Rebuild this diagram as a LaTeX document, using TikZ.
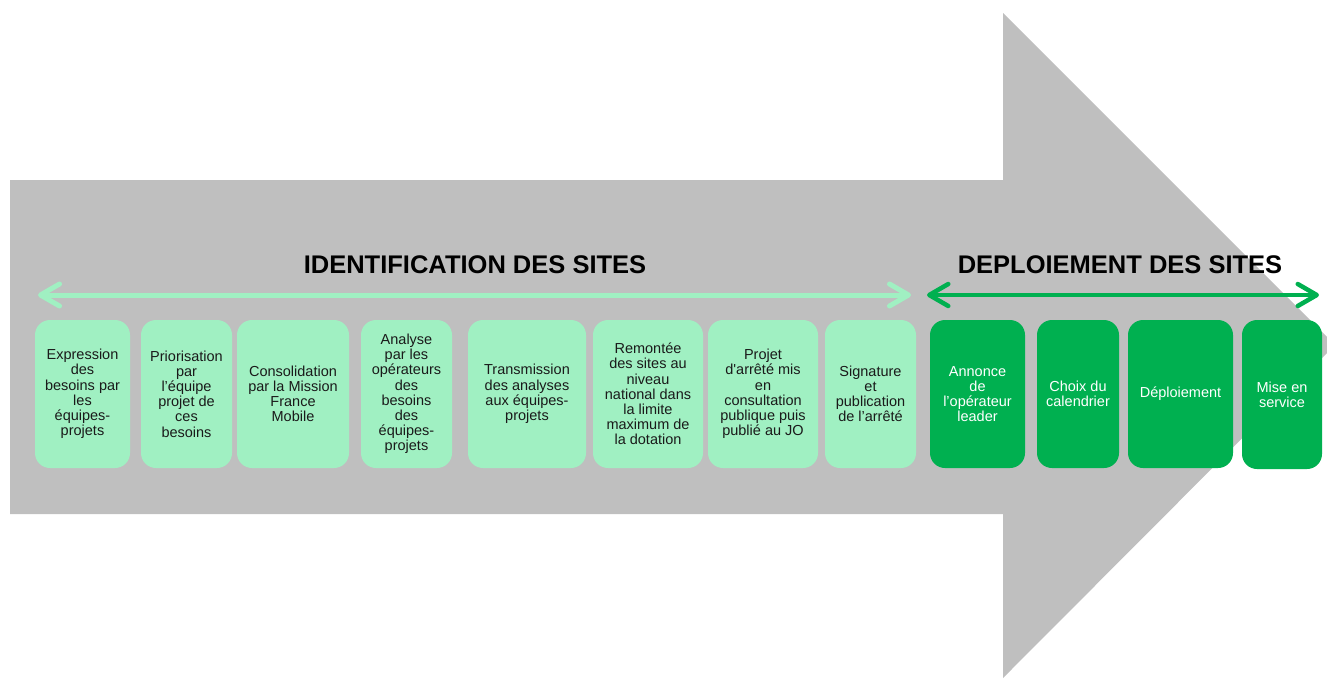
\documentclass[tikz,border=0pt]{standalone}
\usepackage{fontspec}
\setmainfont{Liberation Sans}
\usetikzlibrary{arrows.meta}
\definecolor{arrowgray}{HTML}{BFBFBF}
\definecolor{mint}{HTML}{A0F0C2}
\definecolor{leaf}{HTML}{00B050}
\definecolor{boxtext}{HTML}{1A1A1A}
\begin{document}
\begin{tikzpicture}[x=1pt,y=-1pt,
  stepbox/.style={rounded corners=15pt, inner sep=0pt, align=center,
    minimum height=148pt, font=\fontsize{14.5}{15.2}\selectfont},
  idbox/.style={stepbox, fill=mint, text=boxtext},
  depbox/.style={stepbox, fill=leaf, text=white},
  phasetitle/.style={anchor=base, font=\fontsize{25.5}{28}\selectfont\bfseries, text=black},
  spanline/.style={line width=5pt, line cap=round,
    {Straight Barb[length=19pt, width=22pt, line cap=round, line join=round]}-{Straight Barb[length=19pt, width=22pt, line cap=round, line join=round]}},
]
\useasboundingbox (0,0) rectangle (1327,678);
% big arrow
\fill[arrowgray] (10,180) -- (1003,180) -- (1003,13) -- (1335,345) -- (1003,678) -- (1003,514) -- (10,514) -- cycle;

% titles
\node[phasetitle] (t1) at (475,273) {IDENTIFICATION DES SITES};
\node[phasetitle] (t2) at (1120,273) {DEPLOIEMENT DES SITES};

% span arrows
\coordinate (idL) at (38,295);
\coordinate (idR) at (911,295);
\coordinate (dpL) at (927,295);
\coordinate (dpR) at (1319,295);
\draw[spanline, mint] (idL) -- (idR);
\draw[spanline, leaf, line width=4.5pt] (dpL) -- (dpR);

% identification boxes
\node[idbox, minimum width=95pt] (b1) at (82.5,394) {Expression\\des\\besoins par\\les\\équipes-\\projets};
\node[idbox, minimum width=91pt] (b2) at (186.5,394) {Priorisation\\par\\l’équipe\\projet de\\ces\\besoins};
\node[idbox, minimum width=112pt] (b3) at (293,394) {Consolidation\\par la Mission\\France\\Mobile};
\node[idbox, minimum width=91pt] (b4) at (406.5,394) {Analyse\\par les\\opérateurs\\des\\besoins\\des\\équipes-\\projets};
\node[idbox, minimum width=118pt] (b5) at (527,394) {Transmission\\des analyses\\aux équipes-\\projets};
\node[idbox, minimum width=110pt] (b6) at (648,394) {Remontée\\des sites au\\niveau\\national dans\\la limite\\maximum de\\la dotation};
\node[idbox, minimum width=110pt] (b7) at (763,394) {Projet\\d\textquotesingle arrêté mis\\en\\consultation\\publique puis\\publié au JO};
\node[idbox, minimum width=91pt] (b8) at (870.5,394) {Signature\\et\\publication\\de l’arrêté};

% deployment boxes
\node[depbox, minimum width=95pt] (b9) at (977.5,394) {Annonce\\de\\l’opérateur\\leader};
\node[depbox, minimum width=82pt] (b10) at (1078,394) {Choix du\\calendrier};
\node[depbox, minimum width=105pt] (b11) at (1180.5,394) {Déploiement};
\node[depbox, minimum width=80pt, minimum height=149pt] (b12) at (1282,394.5) {Mise en\\service};
\end{tikzpicture}
\end{document}
